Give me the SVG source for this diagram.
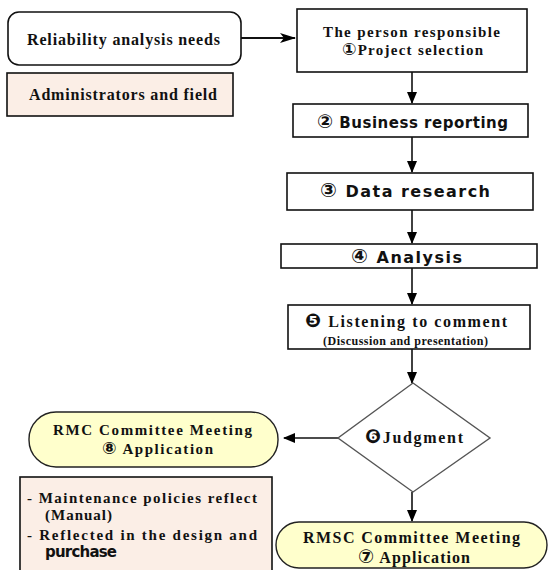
<svg xmlns="http://www.w3.org/2000/svg" width="548" height="570" viewBox="0 0 548 570">
<style>
.box{fill:#fff;stroke:#111;stroke-width:1.6}
.peach{fill:#fbeee6;stroke:#111;stroke-width:1.6}
.yel{fill:#ffffcc;stroke:#222;stroke-width:1.4}
.dia{fill:#fff;stroke:#555;stroke-width:1.4}
.s{font-family:"Liberation Serif","DejaVu Serif",serif;font-weight:bold;fill:#111}
.g{font-family:"DejaVu Sans","Liberation Sans",sans-serif;font-weight:bold;fill:#111}
.c{font-family:"DejaVu Sans",sans-serif;font-weight:bold}
.ln{stroke:#111;stroke-width:1.6;fill:none}
</style>
<defs>
<marker id="ah" markerWidth="12" markerHeight="10" refX="11" refY="5" orient="auto" markerUnits="userSpaceOnUse">
<path d="M0,0 L12,5 L0,10 Z" fill="#000"/>
</marker>
<marker id="ah2" markerWidth="16" markerHeight="10" refX="15" refY="5" orient="auto" markerUnits="userSpaceOnUse">
<path d="M0,0 L16,5 L0,10 L4,5 Z" fill="#000"/>
</marker>
</defs>
<g id="connectors">
<line class="ln" x1="241" y1="38" x2="295" y2="38" style="stroke-width:2.2" marker-end="url(#ah2)"/>
<line class="ln" x1="412" y1="72" x2="412" y2="103" marker-end="url(#ah)"/>
<line class="ln" x1="412" y1="137" x2="412" y2="172" marker-end="url(#ah)"/>
<line class="ln" x1="412" y1="210" x2="412" y2="243" marker-end="url(#ah)"/>
<line class="ln" x1="412" y1="268" x2="412" y2="304" marker-end="url(#ah)"/>
<line class="ln" x1="412" y1="349" x2="412" y2="383" marker-end="url(#ah)"/>
<line class="ln" x1="338" y1="438" x2="284" y2="438" marker-end="url(#ah)"/>
<line class="ln" x1="412" y1="492" x2="412" y2="521" marker-end="url(#ah)"/>
</g>
<g id="needs">
<rect class="box" x="8" y="12" width="233" height="53" rx="11"/>
<text class="s" x="27" y="45" font-size="16" textLength="193">Reliability analysis needs</text>
</g>
<g id="admin">
<rect class="peach" x="7" y="73" width="226" height="43"/>
<text class="s" x="29" y="100" font-size="16" textLength="188">Administrators and field</text>
</g>
<g id="step1">
<rect class="box" x="297" y="9" width="230" height="63"/>
<text class="s" x="323" y="37" font-size="15" textLength="177">The person responsible</text>
<text class="s" x="342" y="55" font-size="15" textLength="141"><tspan class="c" font-size="17">①</tspan>Project selection</text>
</g>
<g id="step2">
<rect class="box" x="293" y="104" width="235" height="33"/>
<text class="g" x="317" y="128" font-size="15" textLength="191"><tspan font-size="19">②</tspan> Business reporting</text>
</g>
<g id="step3">
<rect class="box" x="287" y="173" width="246" height="37"/>
<text class="g" x="320" y="197" font-size="16" textLength="170"><tspan font-size="20">③</tspan> Data research</text>
</g>
<g id="step4">
<rect class="box" x="281" y="244" width="256" height="24"/>
<text class="g" x="351" y="263" font-size="16" textLength="111"><tspan font-size="20">④</tspan> Analysis</text>
</g>
<g id="step5">
<rect class="box" x="288" y="305" width="242" height="44"/>
<text class="s" x="305" y="327" font-size="16" textLength="202"><tspan class="c" font-size="19">❺</tspan> Listening to comment</text>
<text class="s" x="323" y="345" font-size="12" textLength="165">(Discussion and presentation)</text>
</g>
<g id="judgment">
<polygon class="dia" points="413,383 490,438 413,492 338,438"/>
<text class="s" x="365" y="443" font-size="16" textLength="98"><tspan class="c" font-size="19">❻</tspan>Judgment</text>
</g>
<g id="rmc">
<rect class="yel" x="29" y="412" width="249" height="55" rx="27"/>
<text class="s" x="53" y="435" font-size="15" textLength="199">RMC Committee Meeting</text>
<text class="s" x="102" y="454" font-size="15" textLength="111"><tspan class="c" font-size="17">⑧</tspan> Application</text>
</g>
<g id="notes">
<rect class="peach" x="20" y="477" width="252" height="100"/>
<text class="s" x="27" y="503" font-size="15" textLength="230">- Maintenance policies reflect</text>
<text class="s" x="45" y="520" font-size="15" textLength="67">(Manual)</text>
<text class="s" x="27" y="540" font-size="15" textLength="230">- Reflected in the design and</text>
<text class="g" x="45" y="557" font-size="15" style="font-weight:600" textLength="72">purchase</text>
</g>
<g id="rmsc">
<rect class="yel" x="276" y="522" width="271" height="46" rx="23"/>
<text class="s" x="303" y="543" font-size="16" textLength="217">RMSC Committee Meeting</text>
<text class="s" x="358" y="563" font-size="16" textLength="112"><tspan class="c" font-size="19">⑦</tspan> Application</text>
</g>
</svg>
